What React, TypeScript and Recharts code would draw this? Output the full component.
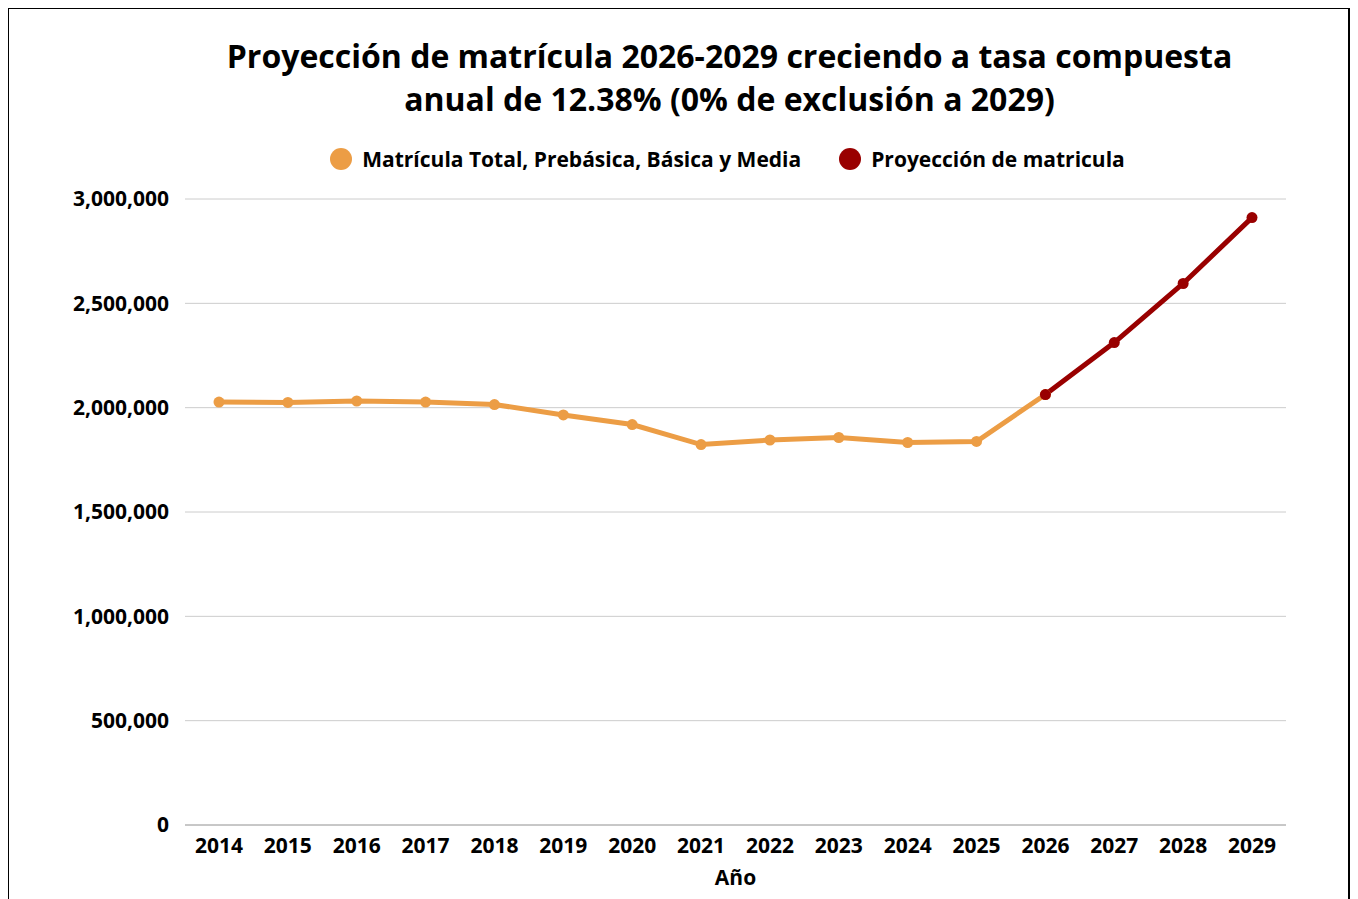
import React from 'react';
import { LineChart, Line, XAxis, YAxis, CartesianGrid } from 'recharts';

const years = ['2014', '2015', '2016', '2017', '2018', '2019', '2020', '2021', '2022', '2023', '2024', '2025', '2026', '2027', '2028', '2029'];
const matricula = [2027000, 2025000, 2032000, 2027000, 2015000, 1965000, 1919000, 1823000, 1845000, 1857000, 1833000, 1838000, 2063000, null, null, null];
const proyeccion = [null, null, null, null, null, null, null, null, null, null, null, null, 2063000, 2312000, 2595000, 2911000];
const yTicks = [0, 500000, 1000000, 1500000, 2000000, 2500000, 3000000];
const seriesNames = ['Matrícula Total, Prebásica, Básica y Media', 'Proyección de matricula'];

const FONT = '"Open Sans", "Noto Sans", sans-serif';
const ORANGE = '#EC9D45';
const RED = '#990000';

const data = years.map((y, i) => ({ year: y, total: matricula[i], proy: proyeccion[i] }));

const LegendBox = () => (
    <div style={{ position: 'absolute', left: 168, width: 1101, top: 136, display: 'flex', justifyContent: 'center', alignItems: 'center', gap: 38, fontFamily: FONT, fontWeight: 700, fontSize: 21, color: '#000' }}>
        {seriesNames.map((n, i) => (
            <div key={n} style={{ display: 'flex', alignItems: 'center' }}>
                <span style={{ width: 22, height: 22, borderRadius: '50%', background: i === 0 ? ORANGE : RED, display: 'inline-block', marginRight: 10 }} />
                {n}
            </div>
        ))}
    </div>
);

export default function App() {
    return (
        <div style={{ position: 'relative', width: 1339, height: 900, border: '3px solid #000', margin: '-2px 0 0 -2px', background: '#fff' }}>
            <div style={{ position: 'absolute', left: 170, width: 1101, top: 25, textAlign: 'center', fontFamily: FONT, fontWeight: 700, fontSize: 32, lineHeight: '43px', color: '#000' }}>
                Proyección de matrícula 2026-2029 creciendo a tasa compuesta<br />anual de 12.38% (0% de exclusión a 2029)
            </div>
            <LegendBox />
            <LineChart width={1339} height={895} data={data} margin={{ top: 190, right: 62, left: 0, bottom: 10 }}>
                <CartesianGrid vertical={false} stroke="#cccccc" />
                <XAxis
                    dataKey="year"
                    padding={{ left: 34, right: 34 }}
                    tickLine={false}
                    axisLine={{ stroke: '#aaaaaa' }}
                    tick={{ fontSize: 21, fontWeight: 700, fill: '#000', fontFamily: FONT }}
                    tickMargin={7}
                    height={69}
                    interval={0}
                    label={{ value: 'Año', position: 'insideBottom', offset: 9, fontSize: 21, fontWeight: 700, fill: '#000', fontFamily: FONT }}
                />
                <YAxis
                    domain={[0, 3000000]}
                    ticks={yTicks}
                    width={176}
                    axisLine={false}
                    tickLine={false}
                    tickSize={0}
                    tickMargin={16}
                    tickFormatter={(v: number) => v.toLocaleString('en-US')}
                    tick={{ fontSize: 21, fontWeight: 700, fill: '#000', fontFamily: FONT }}
                />
                <Line dataKey="total" name={seriesNames[0]} stroke={ORANGE} strokeWidth={5} dot={{ r: 5.5, fill: ORANGE, stroke: ORANGE, strokeWidth: 0 }} isAnimationActive={false} />
                <Line dataKey="proy" name={seriesNames[1]} stroke={RED} strokeWidth={5} dot={{ r: 5.5, fill: RED, stroke: RED, strokeWidth: 0 }} isAnimationActive={false} />
            </LineChart>
        </div>
    );
}
